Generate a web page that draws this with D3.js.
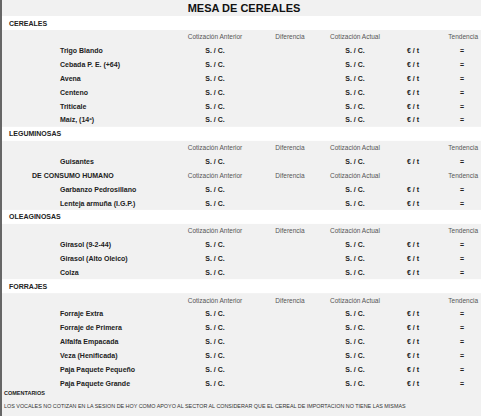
<!DOCTYPE html>
<html><head><meta charset="utf-8">
<script src="https://cdn.jsdelivr.net/npm/d3@7"></script>
<style>body{margin:0;background:#f1f1f1;font-family:"Liberation Sans",Arial,sans-serif}</style>
</head><body>
<script>
var title = "MESA DE CEREALES";
var colHeaders = ["Cotización Anterior", "Diferencia", "Cotización Actual", "Tendencia"];
var cereales = ["Trigo Blando", "Cebada P. E. (+64)", "Avena", "Centeno", "Triticale", "Maíz, (14º)"];
var leguminosas = ["Guisantes"];
var consumoHumano = ["Garbanzo Pedrosillano", "Lenteja armuña (I.G.P.)"];
var oleaginosas = ["Girasol (9-2-44)", "Girasol (Alto Oleico)", "Colza"];
var forrajes = ["Forraje Extra", "Forraje de Primera", "Alfalfa Empacada", "Veza (Henificada)", "Paja Paquete Pequeño", "Paja Paquete Grande"];
var prevValue = "S. / C.", currValue = "S. / C.", unit = "€ / t", trend = "=";
var comentario = "LOS VOCALES NO COTIZAN EN LA SESION DE HOY COMO APOYO AL SECTOR AL CONSIDERAR QUE EL CEREAL DE IMPORTACION NO TIENE LAS MISMAS";

// build row list
var rows = [];
function section(name, items, sub) {
  rows.push({type: "section", text: name});
  rows.push({type: "header"});
  items.forEach(function(d){ rows.push({type: "item", text: d}); });
  if (sub) {
    rows.push({type: "header", text: sub.name});
    sub.items.forEach(function(d){ rows.push({type: "item", text: d}); });
  }
}
section("CEREALES", cereales);
section("LEGUMINOSAS", leguminosas, {name: "DE CONSUMO HUMANO", items: consumoHumano});
section("OLEAGINOSAS", oleaginosas);
section("FORRAJES", forrajes);

var W = 481, H = 416;
var svg = d3.select("body").append("svg").attr("width", W).attr("height", H);
svg.append("rect").attr("width", W).attr("height", H).attr("fill", "#f1f1f1");

var y = d3.scaleLinear().domain([0, rows.length]).range([23, 23 + rows.length * 13.85]);
var x = {label: 60, sub: 32, prev: 215, diff: 290, curr: 355, unit: 413, trend: 462, tendRight: 478};

svg.append("text").attr("x", 244).attr("y", 12).attr("text-anchor", "middle")
  .attr("font-size", 11).attr("font-weight", "bold").attr("fill", "#111").text(title);

rows.forEach(function(r, i) {
  var yy = y(i);
  if (r.type == "section") {
    svg.append("rect").attr("x", 0).attr("y", yy - 7).attr("width", W).attr("height", 14).attr("fill", "#fff");
    svg.append("text").attr("x", 9).attr("y", yy + 2.5).attr("font-size", 7).attr("font-weight", "bold")
      .attr("fill", "#222").text(r.text);
  } else if (r.type == "header") {
    if (r.text) svg.append("text").attr("x", x.sub).attr("y", yy + 2.5).attr("font-size", 7)
      .attr("font-weight", "bold").attr("fill", "#222").text(r.text);
    var hx = [x.prev, x.diff, x.curr, x.tendRight];
    colHeaders.forEach(function(h, j) {
      svg.append("text").attr("x", hx[j]).attr("y", yy + 2.5).attr("font-size", 6.5)
        .attr("text-anchor", j == 3 ? "end" : "middle").attr("fill", "#555").text(h);
    });
  } else {
    svg.append("text").attr("x", x.label).attr("y", yy + 2.5).attr("font-size", 7)
      .attr("font-weight", "bold").attr("fill", "#222").text(r.text);
    [[x.prev, prevValue], [x.curr, currValue], [x.unit, unit], [x.trend, trend]].forEach(function(c) {
      svg.append("text").attr("x", c[0]).attr("y", yy + 2.5).attr("font-size", 7).attr("font-weight", "bold")
        .attr("text-anchor", "middle").attr("fill", "#222").text(c[1]);
    });
  }
});

svg.append("text").attr("x", 4).attr("y", 395).attr("font-size", 5.5).attr("font-weight", "bold")
  .attr("fill", "#222").text("COMENTARIOS");
svg.append("text").attr("x", 4).attr("y", 408).attr("font-size", 5.4)
  .attr("fill", "#333").text(comentario);

svg.append("rect").attr("x", 0).attr("y", 0).attr("width", 2).attr("height", H).attr("fill", "#666");
</script>
</body></html>
